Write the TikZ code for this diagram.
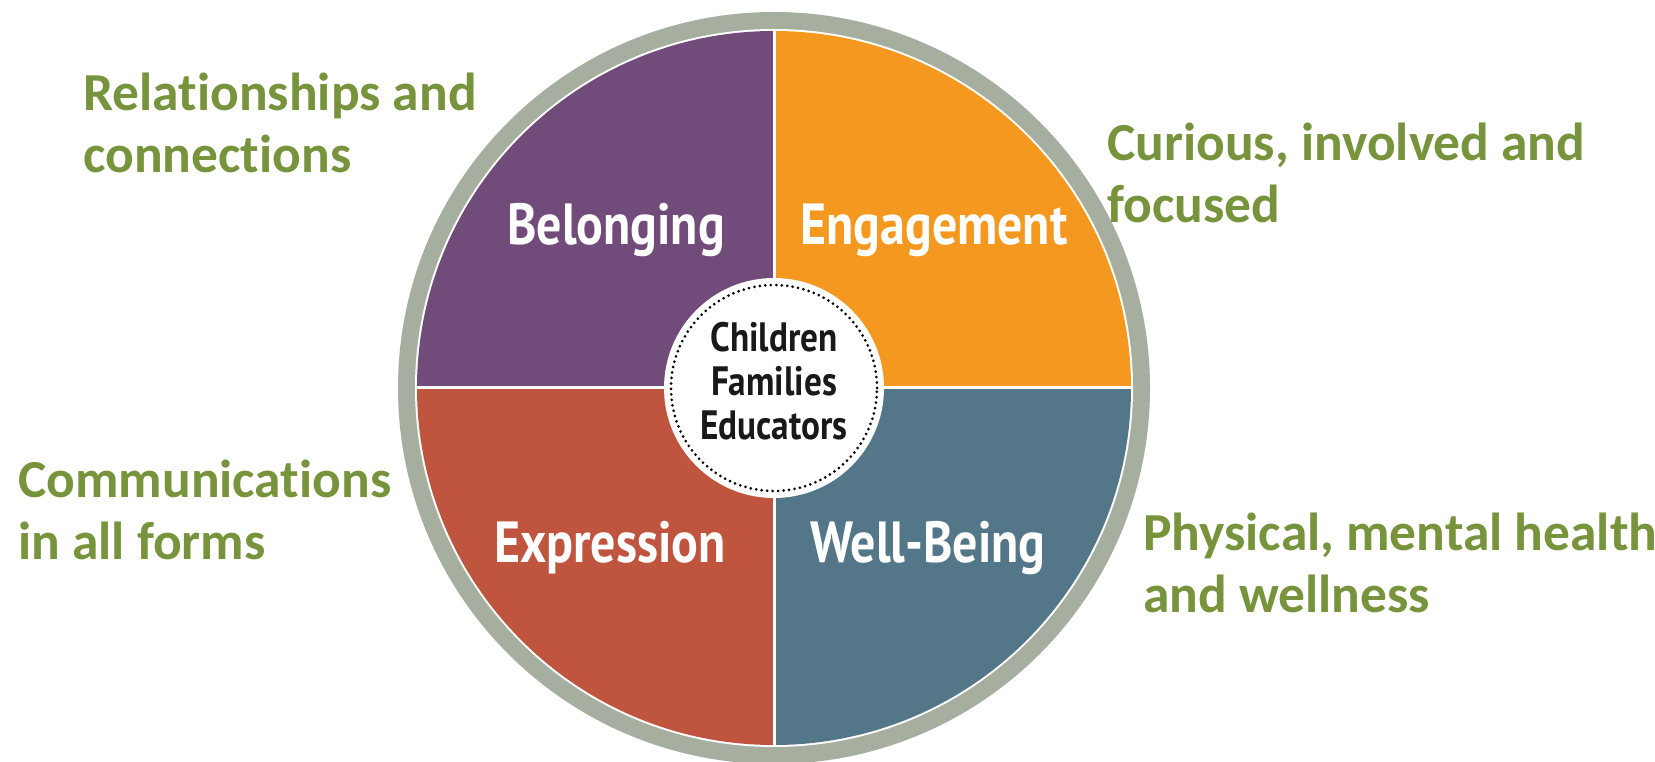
\documentclass[tikz,border=0pt]{standalone}
\usepackage{fontspec}
\setmainfont{Carlito}[Ligatures=NoCommon]
\newfontfamily\wheelfont[FakeStretch=0.86]{PT Sans}
\definecolor{ringgrey}{HTML}{A6AF9F}
\definecolor{belongpurple}{HTML}{714C7B}
\definecolor{engageorange}{HTML}{F4981F}
\definecolor{expressred}{HTML}{C0553F}
\definecolor{wellblue}{HTML}{537688}
\definecolor{leafgreen}{HTML}{77933C}
\begin{document}
\begin{tikzpicture}[x=1pt,y=1pt]
      \tikzstyle{quarter} = [font=\wheelfont\bfseries\fontsize{58}{60}\selectfont, text=white, inner sep=0pt, anchor=base]
      \tikzstyle{hub} = [font=\wheelfont\bfseries\fontsize{41}{44}\selectfont, text=black!90, align=center, inner sep=0pt, anchor=base]
      \tikzstyle{aspect} = [font=\bfseries\fontsize{53.5}{62}\selectfont, text=leafgreen, align=left, inner sep=0pt, anchor=base west]
      \tikzstyle{dotring} = [line width=3pt, dash pattern=on 0pt off 5.5pt, line cap=round]

      \useasboundingbox (0,0) rectangle (1655,761);
      \clip (0,0) rectangle (1655,761);
      \coordinate (c) at (774,373);

      % wheel
      \fill [ringgrey] (c) circle (376);
      \fill [white] (c) circle (359);
      \fill [belongpurple] (c) -- ++(180:357) arc (180:90:357) -- cycle;
      \fill [engageorange] (c) -- ++(90:357) arc (90:0:357) -- cycle;
      \fill [wellblue] (c) -- ++(0:357) arc (0:-90:357) -- cycle;
      \fill [expressred] (c) -- ++(-90:357) arc (-90:-180:357) -- cycle;
      \draw [white, line width=3pt] (c) ++(-358,0) -- ++(716,0);
      \draw [white, line width=3pt] (c) ++(0,-358) -- ++(0,716);
      \fill [white] (c) circle (110);
      \draw [dotring] (c) circle (103);

      \node (belonging) [quarter] at (616,516) {Belonging};
      \node (engagement) [quarter] at (934,516) {Engagement};
      \node (expression) [quarter] at (610,198) {Expression};
      \node (well-being) [quarter] at (928,198) {Well-Being};
      \node (hub-text) [hub] at (774,321) {Children\\Families\\Educators};

      % outer labels (base = last line)
      \node (relationships) [aspect] at (83,588) {Relationships and\\connections};
      \node (curious) [aspect] at (1107,538) {Curious, involved and\\focused};
      \node (communications) [aspect] at (18,201) {Communications\\in all forms};
      \node (physical) [aspect] at (1143,149) {Physical, mental health\\and wellness};
\end{tikzpicture}
\end{document}
